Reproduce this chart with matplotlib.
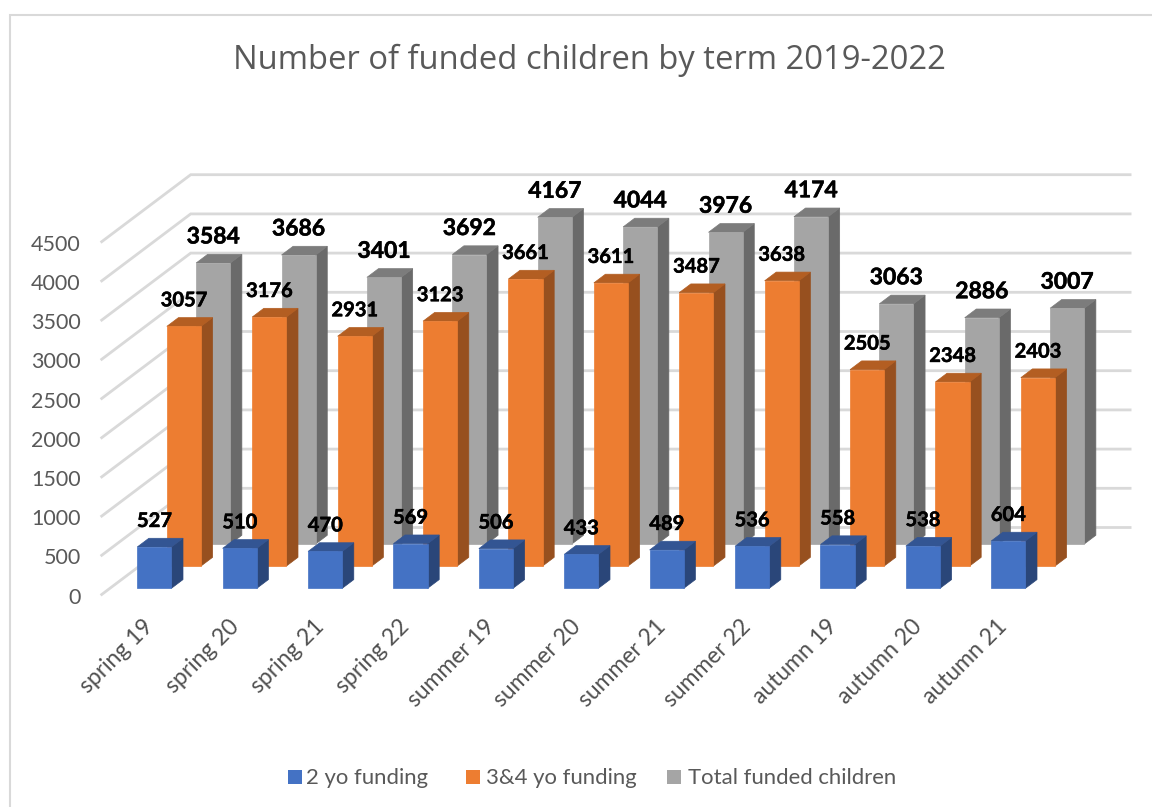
import matplotlib
matplotlib.use("Agg")
import matplotlib.pyplot as plt
import matplotlib.patheffects as pe
from matplotlib.patches import Polygon, Rectangle

categories = ["spring 19", "spring 20", "spring 21", "spring 22",
              "summer 19", "summer 20", "summer 21", "summer 22",
              "autumn 19", "autumn 20", "autumn 21"]
two_yo = [527, 510, 470, 569, 506, 433, 489, 536, 558, 538, 604]
three_four_yo = [3057, 3176, 2931, 3123, 3661, 3611, 3487, 3638, 2505, 2348, 2403]
total = [3584, 3686, 3401, 3692, 4167, 4044, 3976, 4174, 3063, 2886, 3007]
value_ticks = [0, 500, 1000, 1500, 2000, 2500, 3000, 3500, 4000, 4500]

W, H = 1152, 807
# pixel scale of the chart floor: one category slot and one value unit
SLOT_PX = 85.4
UNIT_PX = 0.0784
X0_PX, Y0_PX = 101.7, 594.5
# a full step in depth moves this far in data units
DEPTH_X = 89 / SLOT_PX
DEPTH_Y = 67 / UNIT_PX

fig = plt.figure(figsize=(W / 100, H / 100), dpi=100, facecolor="white")
ax = fig.add_axes([0, 0, 1, 1])
ax.set_xlim(-X0_PX / SLOT_PX, (W - X0_PX) / SLOT_PX)
ax.set_ylim((Y0_PX - H) / UNIT_PX, Y0_PX / UNIT_PX)
ax.axis("off")

GRID = "#D9D9D9"
TEXT = "#595959"
n = len(categories)


def project(x, v, d):
    return x + d * DEPTH_X, v + d * DEPTH_Y


# chart frame
ax.add_patch(Rectangle((0.0088, -0.05), 1.2, 1.032, transform=ax.transAxes,
                       fill=False, ec=GRID, lw=1.5, zorder=1))

# side and back walls
for v in value_ticks:
    p0 = project(0, v, 0)
    p1 = project(0, v, 1)
    p2 = project(n, v, 1)
    ax.plot([p0[0], p1[0], p2[0]], [p0[1], p1[1], p2[1]], color=GRID, lw=2.0,
            solid_joinstyle="miter", zorder=2)
    ax.text(-0.245, v - 40, str(v), ha="right", va="center",
            color=TEXT, fontsize=15.5, family="Lato", zorder=20)

BAR_SIDE = 0.32
BAR_WIDTH = 0.40
BAR_DEPTH = 0.13


def draw_bar(i, value, d, front, top, side, z):
    x0 = i + BAR_SIDE
    x1 = x0 + BAR_WIDTH
    d1 = d + BAR_DEPTH
    face = [project(x0, 0, d), project(x1, 0, d), project(x1, value, d), project(x0, value, d)]
    lid = [project(x0, value, d), project(x1, value, d), project(x1, value, d1), project(x0, value, d1)]
    wall = [project(x1, 0, d), project(x1, 0, d1), project(x1, value, d1), project(x1, value, d)]
    for pts, col in ((wall, side), (lid, top), (face, front)):
        ax.add_patch(Polygon(pts, closed=True, fc=col, ec=col, lw=0.5, zorder=z))


series = [
    (total, 0.754, "#A5A5A5", "#7C7C7C", "#6A6A6A", 5, 16.5),
    (three_four_yo, 0.425, "#ED7D31", "#B35E22", "#97501F", 6, 14.5),
    (two_yo, 0.0925, "#4472C4", "#335593", "#2A4679", 7, 14.5),
]
label_weight = [pe.withStroke(linewidth=0.35, foreground="black")]
for values, depth, front, top, side, z, label_size in series:
    for i, v in enumerate(values):
        draw_bar(i, v, depth, front, top, side, z)
        cx, cy = project(i + BAR_SIDE + BAR_WIDTH / 2, v, depth)
        ax.annotate(str(v), (cx, cy), xytext=(0, 26 * 0.72), textcoords="offset points",
                    ha="center", va="center", fontsize=label_size, fontweight="bold",
                    family="Lato", color="black", zorder=30, path_effects=label_weight)

# rotated category labels below the front bars
for i, name in enumerate(categories):
    ax.text(i + 0.48, -270, name, rotation=45, rotation_mode="anchor", ha="right", va="top",
            fontsize=16.5, family="Lato", color="#505050", zorder=20)

ax.text(589 / W, 1 - 60 / H, "Number of funded children by term 2019-2022", transform=ax.transAxes,
        ha="center", va="center", fontsize=23.6, family="Open Sans", color=TEXT)

# legend row
legend_items = [("2 yo funding", "#4472C4", 288, 306), ("3&4 yo funding", "#ED7D31", 466, 486),
                ("Total funded children", "#A5A5A5", 667, 688)]
for label, col, sq_x, tx_x in legend_items:
    ax.add_patch(Rectangle((sq_x / W, 1 - 784 / H), 14 / W, 14 / H, transform=ax.transAxes,
                           fc=col, ec="none", zorder=20))
    ax.text(tx_x / W, 1 - 778 / H, label, transform=ax.transAxes, ha="left", va="center",
            fontsize=15.9, family="Lato", color=TEXT)

fig.savefig("out.png", dpi=100)
